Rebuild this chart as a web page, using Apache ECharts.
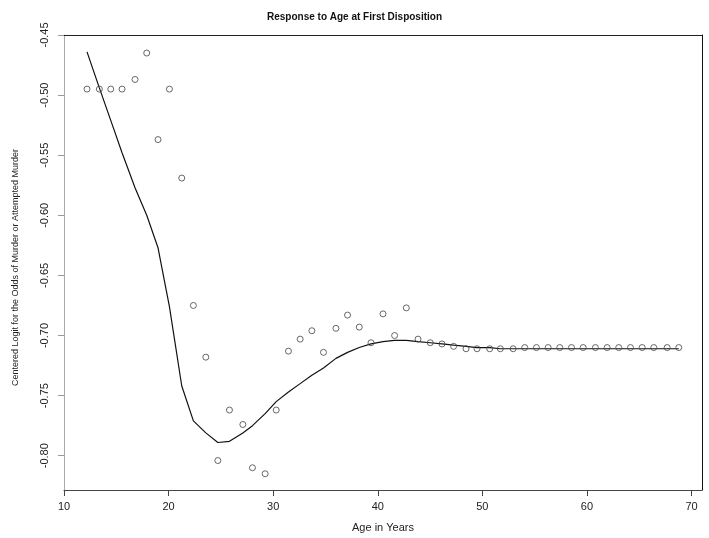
<!DOCTYPE html>
<html>
<head>
<meta charset="utf-8">
<script src="https://cdn.jsdelivr.net/npm/echarts@6/dist/echarts.min.js"></script>
<style>
  html, body { margin: 0; padding: 0; background: #fff; }
  #chart { width: 709px; height: 538px; }
</style>
</head>
<body>
<div id="chart"></div>
<script>
// age at first disposition (years)
var ages = [12.20, 13.38, 14.47, 15.55, 16.79, 17.91, 18.99, 20.08, 21.26, 22.37,
  23.56, 24.71, 25.82, 27.10, 28.02, 29.23, 30.29, 31.46, 32.58, 33.70,
  34.81, 36.00, 37.11, 38.23, 39.35, 40.50, 41.61, 42.73, 43.85, 45.02,
  46.14, 47.25, 48.44, 49.49, 50.70, 51.72, 52.94, 54.05, 55.17, 56.29,
  57.40, 58.52, 59.64, 60.81, 61.93, 63.04, 64.16, 65.28, 66.39, 67.67, 68.78];

// observed centered logit (open circles)
var observed = [-0.495, -0.495, -0.495, -0.495, -0.487, -0.465, -0.537, -0.495, -0.569, -0.675,
  -0.718, -0.804, -0.762, -0.774, -0.810, -0.815, -0.762, -0.713, -0.703, -0.696,
  -0.714, -0.694, -0.683, -0.693, -0.706, -0.682, -0.700, -0.677, -0.703, -0.706,
  -0.707, -0.709, -0.711, -0.711, -0.711, -0.711, -0.711, -0.710, -0.710, -0.710,
  -0.710, -0.710, -0.710, -0.710, -0.710, -0.710, -0.710, -0.710, -0.710, -0.710, -0.710];

// fitted response (solid line)
var fitted = [-0.464, -0.494, -0.521, -0.548, -0.577, -0.600, -0.627, -0.676, -0.742, -0.771,
  -0.781, -0.789, -0.788, -0.781, -0.775, -0.765, -0.755, -0.747, -0.740, -0.733,
  -0.727, -0.719, -0.714, -0.710, -0.707, -0.705, -0.704, -0.704, -0.705, -0.706,
  -0.707, -0.708, -0.709, -0.710, -0.710, -0.711, -0.711, -0.711, -0.711, -0.711,
  -0.711, -0.711, -0.711, -0.711, -0.711, -0.711, -0.711, -0.711, -0.711, -0.711, -0.711];

var xTicks = [10, 20, 30, 40, 50, 60, 70];
var yTicks = [-0.80, -0.75, -0.70, -0.65, -0.60, -0.55, -0.50, -0.45];

var chart = echarts.init(document.getElementById('chart'));

var font = 'Liberation Sans, Arial, sans-serif';

var obsData = ages.map(function (a, i) { return [a, observed[i]]; });
var fitData = ages.map(function (a, i) { return [a, fitted[i]]; });

var option = {
  backgroundColor: '#fff',
  animation: false,
  title: {
    text: 'Response to Age at First Disposition',
    left: 'center',
    top: 7,
    textStyle: { fontFamily: font, fontSize: 10, fontWeight: 'bold', color: '#111' }
  },
  grid: { left: 64, right: 7, top: 35, bottom: 48 },
  xAxis: [
    {
      type: 'value',
      min: 10,
      max: 71,
      name: 'Age in Years',
      nameLocation: 'middle',
      nameGap: 32,
      nameTextStyle: { fontFamily: font, fontSize: 11, color: '#222' },
      splitLine: { show: false },
      axisLine: { lineStyle: { color: '#444', width: 1 } },
      axisTick: { length: 6, customValues: xTicks, lineStyle: { color: '#444' } },
      axisLabel: {
        customValues: xTicks,
        margin: 11,
        fontFamily: font, fontSize: 11, color: '#222'
      }
    },
    {
      type: 'value',
      position: 'top',
      min: 10,
      max: 71,
      splitLine: { show: false },
      axisLine: { show: true, lineStyle: { color: '#222', width: 1 } },
      axisTick: { show: false },
      axisLabel: { show: false }
    }
  ],
  yAxis: [
    {
      type: 'value',
      min: -0.8285,
      max: -0.45,
      name: 'Centered Logit for the Odds of Murder or Attempted Murder',
      nameLocation: 'middle',
      nameGap: 44,
      nameTextStyle: { fontFamily: font, fontSize: 9, color: '#222', padding: [0, 10, 0, 0] },
      splitLine: { show: false },
      axisLine: { show: true, lineStyle: { color: '#aaa', width: 1 } },
      axisTick: { show: true, length: 6, customValues: yTicks, lineStyle: { color: '#999' } },
      axisLabel: {
        customValues: yTicks,
        rotate: 90,
        margin: 14,
        fontFamily: font, fontSize: 11, color: '#222',
        formatter: function (v) { return v.toFixed(2); }
      }
    },
    {
      type: 'value',
      position: 'right',
      min: -0.8285,
      max: -0.45,
      splitLine: { show: false },
      axisLine: { show: true, lineStyle: { color: '#111', width: 1 } },
      axisTick: { show: false },
      axisLabel: { show: false }
    }
  ],
  series: [
    {
      name: 'fitted',
      type: 'line',
      data: fitData,
      showSymbol: false,
      symbol: 'none',
      lineStyle: { color: '#111', width: 1.2 },
      z: 2
    },
    {
      name: 'observed',
      type: 'scatter',
      data: obsData,
      symbol: 'circle',
      symbolSize: 6,
      itemStyle: { color: 'rgba(255,255,255,0)', borderColor: '#444', borderWidth: 1 },
      z: 3
    }
  ]
};

chart.setOption(option);
</script>
</body>
</html>
